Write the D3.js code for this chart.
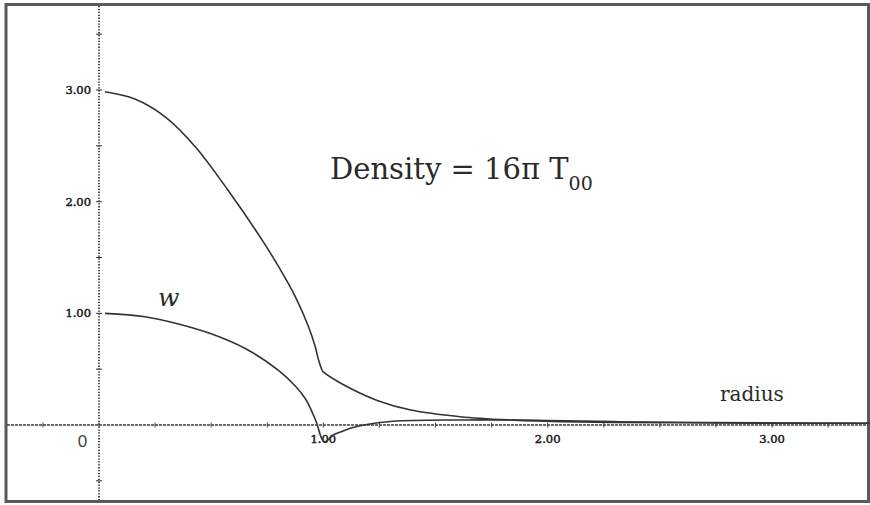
<!DOCTYPE html>
<html><head><meta charset="utf-8">
<script src="https://cdn.jsdelivr.net/npm/d3@7"></script>
<style>html,body{margin:0;padding:0;background:#fff;}svg{display:block;}</style>
</head><body>
<svg id="chart" width="870" height="505"></svg>
<script>
// ---- data ----
const densityInnerR = [0.027, 0.16, 0.295, 0.43, 0.576, 0.726, 0.80, 0.875, 0.934, 0.964, 0.979, 0.994];
const densityInnerV = [2.985, 2.92, 2.76, 2.49, 2.10, 1.66, 1.42, 1.15, 0.88, 0.70, 0.58, 0.49];
const densityOuterR = [0.994, 1.0, 1.09, 1.24, 1.39, 1.61, 1.83, 2.06, 2.28, 2.6, 3.0, 3.44];
const densityOuterV = [0.49, 0.475, 0.36, 0.22, 0.134, 0.074, 0.045, 0.03, 0.023, 0.02, 0.017, 0.015];
const wR = [0.027, 0.205, 0.354, 0.503, 0.652, 0.80, 0.875, 0.92, 0.948, 0.97, 0.99, 1.0, 1.01, 1.045, 1.08, 1.12, 1.18, 1.31, 1.61, 1.83, 2.0, 2.3, 2.7, 3.44];
const wV = [1.0, 0.97, 0.905, 0.815, 0.685, 0.49, 0.35, 0.235, 0.125, 0.02, -0.11, -0.145, -0.15, -0.09, -0.06, -0.03, 0.0, 0.033, 0.045, 0.045, 0.04, 0.03, 0.022, 0.015];
const xTickLabels = ["1.00", "2.00", "3.00"];
const xTickValues = [1, 2, 3];
const yTickLabels = ["1.00", "2.00", "3.00"];
const yTickValues = [1, 2, 3];
const xMinorTicks = d3.range(-0.25, 3.5, 0.25);
const yMinorTicks = d3.range(-0.5, 3.75, 0.5);

const svg = d3.select("#chart");
const x = d3.scaleLinear().domain([0, 3]).range([99, 772]);
const y = d3.scaleLinear().domain([0, 3]).range([425, 90]);

// frame
svg.append("rect").attr("x", 6).attr("y", 4.5).attr("width", 862.5).attr("height", 497)
  .attr("fill", "none").attr("stroke", "#5a5a5a").attr("stroke-width", 3);

// x axis line
svg.append("line").attr("x1", 7).attr("x2", 868).attr("y1", y(0)).attr("y2", y(0))
  .attr("stroke", "#3a3a3a").attr("stroke-width", 1.5).attr("stroke-dasharray", "3,1");
// y axis dotted
svg.append("line").attr("x1", x(0)).attr("x2", x(0)).attr("y1", 6).attr("y2", 500)
  .attr("stroke", "#1a1a1a").attr("stroke-width", 1.6).attr("stroke-dasharray", "1.3,1.6");

// minor ticks
svg.selectAll(".xt").data(xMinorTicks).join("line")
  .attr("x1", d => x(d)).attr("x2", d => x(d)).attr("y1", y(0) - 2.5).attr("y2", y(0) + 2.5)
  .attr("stroke", "#444").attr("stroke-width", 1);
svg.selectAll(".yt").data(yMinorTicks.filter(d => d !== 0)).join("line")
  .attr("x1", x(0) - 3).attr("x2", x(0) + 3).attr("y1", d => y(d)).attr("y2", d => y(d))
  .attr("stroke", "#333").attr("stroke-width", 1);

// tick labels
svg.selectAll(".xl").data(xTickValues).join("text")
  .attr("x", d => x(d)).attr("y", 443).attr("text-anchor", "middle")
  .attr("font-family", "DejaVu Serif").attr("font-size", 11.5).attr("fill", "#1a1a1a")
  .attr("stroke", "#1a1a1a").attr("stroke-width", 0.5)
  .text((d, i) => xTickLabels[i]);
svg.selectAll(".yl").data(yTickValues).join("text")
  .attr("x", 91).attr("y", d => y(d) + 4).attr("text-anchor", "end")
  .attr("font-family", "DejaVu Serif").attr("font-size", 11.5).attr("fill", "#1a1a1a")
  .attr("stroke", "#1a1a1a").attr("stroke-width", 0.5)
  .text((d, i) => yTickLabels[i]);
svg.append("text").attr("x", 82.5).attr("y", 447).attr("text-anchor", "middle")
  .attr("font-family", "Liberation Sans").attr("font-size", 17).attr("fill", "#444").text("0");

// curves
const line = d3.line().x(d => x(d[0])).y(d => y(d[1])).curve(d3.curveCatmullRom.alpha(0.5));
const series = [
  d3.zip(densityInnerR, densityInnerV),
  d3.zip(densityOuterR, densityOuterV),
  d3.zip(wR, wV)
];
svg.selectAll(".curve").data(series).join("path")
  .attr("d", line).attr("fill", "none").attr("stroke", "#333").attr("stroke-width", 1.6);

// annotations
const title = svg.append("text").attr("x", 330).attr("y", 179)
  .attr("font-family", "DejaVu Serif").attr("font-size", 29).attr("fill", "#2a2a2a");
title.append("tspan").text("Density = 16\u03c0 T");
title.append("tspan").attr("dy", 11).attr("font-size", 19).text("00");

svg.append("text").attr("x", 720).attr("y", 401)
  .attr("font-family", "DejaVu Serif").attr("font-size", 20).attr("fill", "#2a2a2a").text("radius");
svg.append("text").attr("x", 158).attr("y", 306)
  .attr("font-family", "DejaVu Serif").attr("font-style", "italic").attr("font-size", 25).attr("fill", "#2a2a2a").text("w");
</script>
</body></html>
